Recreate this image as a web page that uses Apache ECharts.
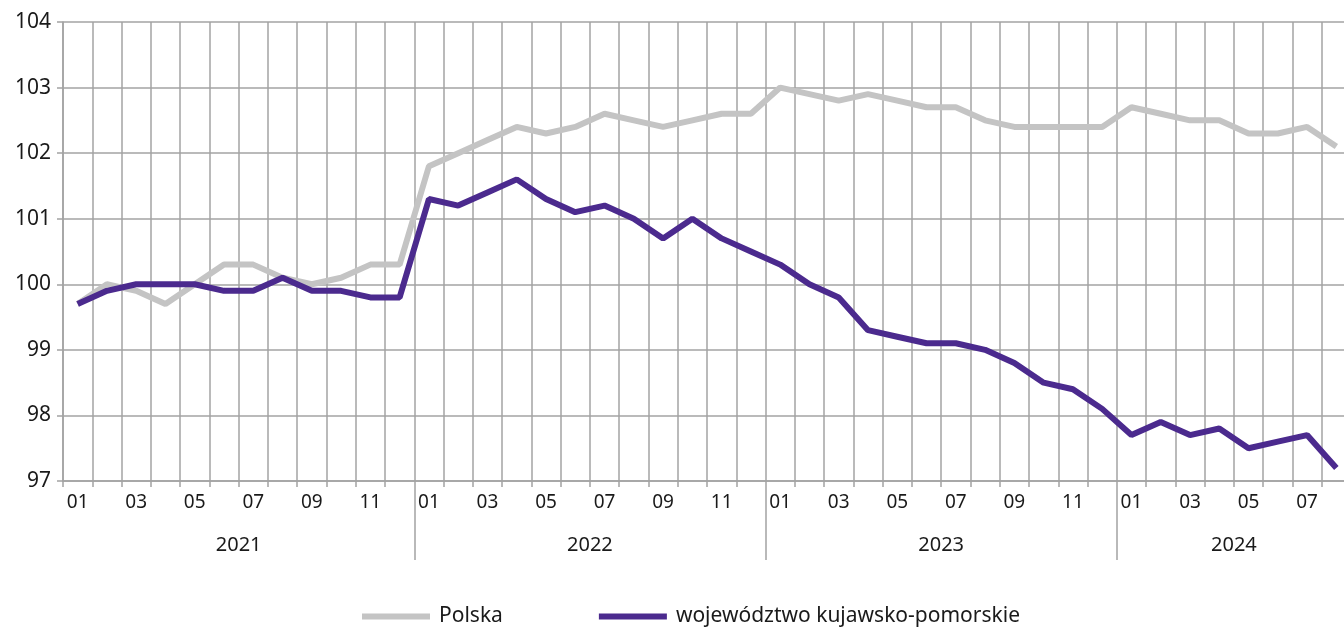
<!DOCTYPE html>
<html>
<head>
<meta charset="utf-8">
<script src="https://cdn.jsdelivr.net/npm/echarts@6/dist/echarts.min.js"></script>
<style>
  html, body { margin: 0; padding: 0; background: #fff; }
  #chart { width: 1344px; height: 628px; }
</style>
</head>
<body>
<div id="chart"></div>
<script>
// miesiące 2021-01 .. 2024-08
const years = ['2021', '2022', '2023', '2024']
const monthsPerYear = [12, 12, 12, 8]
const months = []
monthsPerYear.forEach(n => {
  for (let m = 1; m <= n; m++) months.push(String(m).padStart(2, '0'))
})

const polska = [
  99.7, 100.0, 99.9, 99.7, 100.0, 100.3, 100.3, 100.1, 100.0, 100.1, 100.3, 100.3,
  101.8, 102.0, 102.2, 102.4, 102.3, 102.4, 102.6, 102.5, 102.4, 102.5, 102.6, 102.6,
  103.0, 102.9, 102.8, 102.9, 102.8, 102.7, 102.7, 102.5, 102.4, 102.4, 102.4, 102.4,
  102.7, 102.6, 102.5, 102.5, 102.3, 102.3, 102.4, 102.1
]
const kujPom = [
  99.7, 99.9, 100.0, 100.0, 100.0, 99.9, 99.9, 100.1, 99.9, 99.9, 99.8, 99.8,
  101.3, 101.2, 101.4, 101.6, 101.3, 101.1, 101.2, 101.0, 100.7, 101.0, 100.7, 100.5,
  100.3, 100.0, 99.8, 99.3, 99.2, 99.1, 99.1, 99.0, 98.8, 98.5, 98.4, 98.1,
  97.7, 97.9, 97.7, 97.8, 97.5, 97.6, 97.7, 97.2
]

// granice lat i środki etykiet lat (w jednostkach miesięcy)
const yearBounds = []
const yearCenters = []
let acc = 0
monthsPerYear.forEach((n, i) => {
  yearCenters.push(acc + n / 2)
  acc += n
  if (i < monthsPerYear.length - 1) yearBounds.push(acc)
})

const gridColor = '#a3a3a3'
const font = 'Noto Sans'

const chart = echarts.init(document.getElementById('chart'))
chart.setOption({
  animation: false,
  textStyle: { fontFamily: font },
  grid: { left: 63, top: 22, width: 1288, height: 459, outerBoundsMode: 'none' },
  xAxis: [
    {
      type: 'category',
      data: months,
      boundaryGap: true,
      axisLine: { lineStyle: { color: gridColor, width: 1.5 } },
      axisTick: { show: true, interval: 0, length: 6, lineStyle: { color: gridColor, width: 1.5 } },
      splitLine: { show: true, interval: 0, lineStyle: { color: gridColor, width: 1.5 } },
      axisLabel: { interval: 1, margin: 12, fontSize: 19, color: '#1a1a1a', fontFamily: font }
    },
    {
      type: 'value',
      min: 0,
      max: acc,
      position: 'bottom',
      axisLine: { show: false },
      splitLine: { show: false },
      axisTick: {
        show: true,
        length: 79,
        customValues: yearBounds,
        lineStyle: { color: gridColor, width: 1.5 }
      },
      axisLabel: {
        margin: 54,
        fontSize: 20,
        color: '#1a1a1a',
        fontFamily: font,
        customValues: yearCenters,
        formatter: v => years[yearCenters.indexOf(v)] || ''
      }
    }
  ],
  yAxis: {
    type: 'value',
    min: 97,
    max: 104,
    interval: 1,
    axisLine: { show: true, lineStyle: { color: gridColor, width: 1.5 } },
    axisTick: { show: true, length: 6, lineStyle: { color: gridColor, width: 1.5 } },
    splitLine: { lineStyle: { color: gridColor, width: 1.5 } },
    axisLabel: { margin: 12, fontSize: 21, color: '#1a1a1a', fontFamily: font }
  },
  legend: {
    left: 357,
    top: 601,
    itemWidth: 68,
    itemHeight: 6,
    itemGap: 96,
    icon: 'rect',
    textStyle: { fontSize: 21, color: '#1a1a1a', fontFamily: font, padding: [0, 0, 0, 4] },
    data: ['Polska', 'województwo kujawsko-pomorskie']
  },
  series: [
    {
      name: 'Polska',
      type: 'line',
      data: polska,
      symbol: 'none',
      lineStyle: { color: '#c4c4c4', width: 6 },
      itemStyle: { color: '#c4c4c4' },
      z: 3
    },
    {
      name: 'województwo kujawsko-pomorskie',
      type: 'line',
      data: kujPom,
      symbol: 'none',
      lineStyle: { color: '#4b2a8e', width: 6 },
      itemStyle: { color: '#4b2a8e' },
      z: 4
    }
  ]
})
</script>
</body>
</html>
